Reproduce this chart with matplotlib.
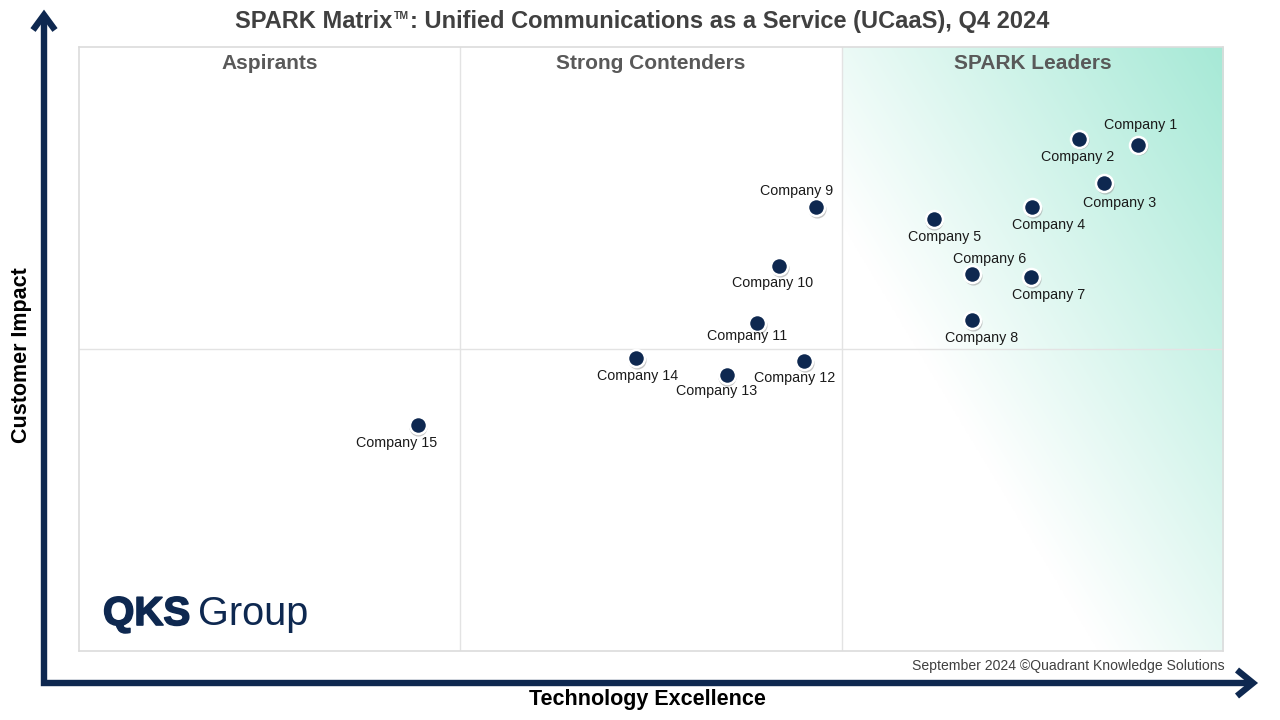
import numpy as np
import matplotlib.pyplot as plt
import matplotlib.transforms as mtransforms
import matplotlib.patheffects as pe
from matplotlib.lines import Line2D

plt.rcParams['font.family'] = ['Liberation Sans', 'DejaVu Sans']

# Data (0-100 scale on both axes)
companies = ["Company 1", "Company 2", "Company 3", "Company 4", "Company 5",
             "Company 6", "Company 7", "Company 8", "Company 9", "Company 10",
             "Company 11", "Company 12", "Company 13", "Company 14", "Company 15"]
tech_excellence = [92.6, 87.4, 89.6, 83.3, 74.7, 78.1, 83.2, 78.1,
                   64.4, 61.2, 59.3, 63.4, 56.6, 48.7, 29.6]
customer_impact = [83.8, 84.8, 77.5, 73.5, 71.5, 62.4, 61.9, 54.8,
                   73.5, 63.7, 54.3, 48.0, 45.7, 48.5, 37.4]
quadrants = ["Aspirants", "Strong Contenders", "SPARK Leaders"]

# label offsets in pixels (dx, dy)
label_offsets = [(2, 20), (-1, -18), (16, -20), (17, -18), (11, -18),
                 (17, 15), (18, -18), (9, -18), (-19, 16), (-7, -17),
                 (-10, -13), (-10, -17), (-10, -16), (1, -18), (-21, -18)]

W, H = 1280, 720
navy = '#0e2850'


def fx(px):
    return px / W


def fy(py):
    return 1 - py / H


fig = plt.figure(figsize=(12.8, 7.2), dpi=100)
ax = fig.add_axes([fx(79), fy(651), (1223 - 79) / W, (651 - 47) / H])
ax.set_xlim(0, 100)
ax.set_ylim(0, 100)
ax.set_xticks([])
ax.set_yticks([])
for s in ax.spines.values():
    s.set_color('#dcdcdc')
    s.set_linewidth(1.2)

# gradient for the leaders zone
gx = np.linspace(200 / 3, 100, 300)
gy = np.linspace(0, 100, 500)
X, Y = np.meshgrid(gx, gy)
t = ((X - 75.9) * 11.44 + 0.6 * (Y - 41.6) * 6.04) / 488
t = np.clip(t, 0, 1)
top = np.array([166, 233, 214]) / 255
img = 1 - t[..., None] * (1 - top)
ax.imshow(img, origin='lower', extent=[200 / 3, 100, 0, 100], aspect='auto',
          zorder=0, interpolation='bilinear')

# dividers
for xv in [100 / 3, 200 / 3]:
    ax.axvline(xv, color='#e3e3e3', lw=1, zorder=1)
ax.axhline(50, color='#e3e3e3', lw=1, zorder=1)

# points with a soft shadow
shadow = mtransforms.offset_copy(ax.transData, fig=fig, x=0.8, y=-1.6, units='dots')
ax.scatter(tech_excellence, customer_impact, s=170, color='#9a9a9a', alpha=0.55,
           linewidths=0, transform=shadow, zorder=2)
ax.scatter(tech_excellence, customer_impact, s=150, color=navy,
           edgecolors='white', linewidths=1.8, zorder=3)

for name, x, y, off in zip(companies, tech_excellence, customer_impact, label_offsets):
    ax.annotate(name, (x, y), xytext=off, textcoords='offset pixels',
                ha='center', va='center', fontsize=10.3, color='#1a1a1a', zorder=4)

# quadrant titles
for i, q in enumerate(quadrants):
    ax.text((i + 0.5) * 100 / 3, 97.2, q, ha='center', va='center',
            fontsize=15, fontweight='bold', color='#595959')

# axes arrows
arrow_kw = dict(lw=4.6, color=navy, solid_joinstyle='miter', solid_capstyle='butt')
fig.add_artist(Line2D([fx(44), fx(44), fx(1251)], [fy(16), fy(683), fy(683)], **arrow_kw))
fig.add_artist(Line2D([fx(33), fx(44), fx(55)], [fy(30), fy(15), fy(30)], **arrow_kw))
fig.add_artist(Line2D([fx(1237), fx(1253), fx(1237)], [fy(670), fy(683), fy(696)], **arrow_kw))

# title in three parts so the trademark sign sits small and raised
renderer = fig.canvas.get_renderer()
title_kw = dict(fontsize=17, fontweight='bold', color='#404040', va='baseline', ha='left')
base = fy(28)
p1 = fig.text(0, base, "SPARK Matrix", **title_kw)
p2 = fig.text(0, fy(19), "TM", fontsize=7.5, fontweight='bold', color='#404040',
              va='baseline', ha='left')
p3 = fig.text(0, base, ": Unified Communications as a Service (UCaaS), Q4 2024", **title_kw)
w1 = p1.get_window_extent(renderer).width
w2 = p2.get_window_extent(renderer).width
w3 = p3.get_window_extent(renderer).width
x0 = 642 - (w1 + w2 + 2 + w3) / 2
p1.set_x(fx(x0))
p2.set_x(fx(x0 + w1 + 1))
p3.set_x(fx(x0 + w1 + w2 + 2))

fig.text(fx(22), fy(355), "Customer Impact", rotation=90, ha='center', va='center',
         fontsize=15.5, fontweight='bold', color='black')
fig.text(fx(647), fy(699), "Technology Excellence", ha='center', va='center',
         fontsize=15.5, fontweight='bold', color='black')
fig.text(fx(1225), fy(666), "September 2024 \u00a9Quadrant Knowledge Solutions",
         ha='right', va='center', fontsize=10.1, color='#404040')

# logo
fig.text(fx(103), fy(625), "QKS", ha='left', va='baseline', fontsize=29,
         fontweight='bold', color=navy,
         path_effects=[pe.withStroke(linewidth=1.2, foreground=navy)])
fig.text(fx(198), fy(625), "Group", ha='left', va='baseline', fontsize=28.5,
         color=navy)

fig.savefig('out.png', dpi=100)
